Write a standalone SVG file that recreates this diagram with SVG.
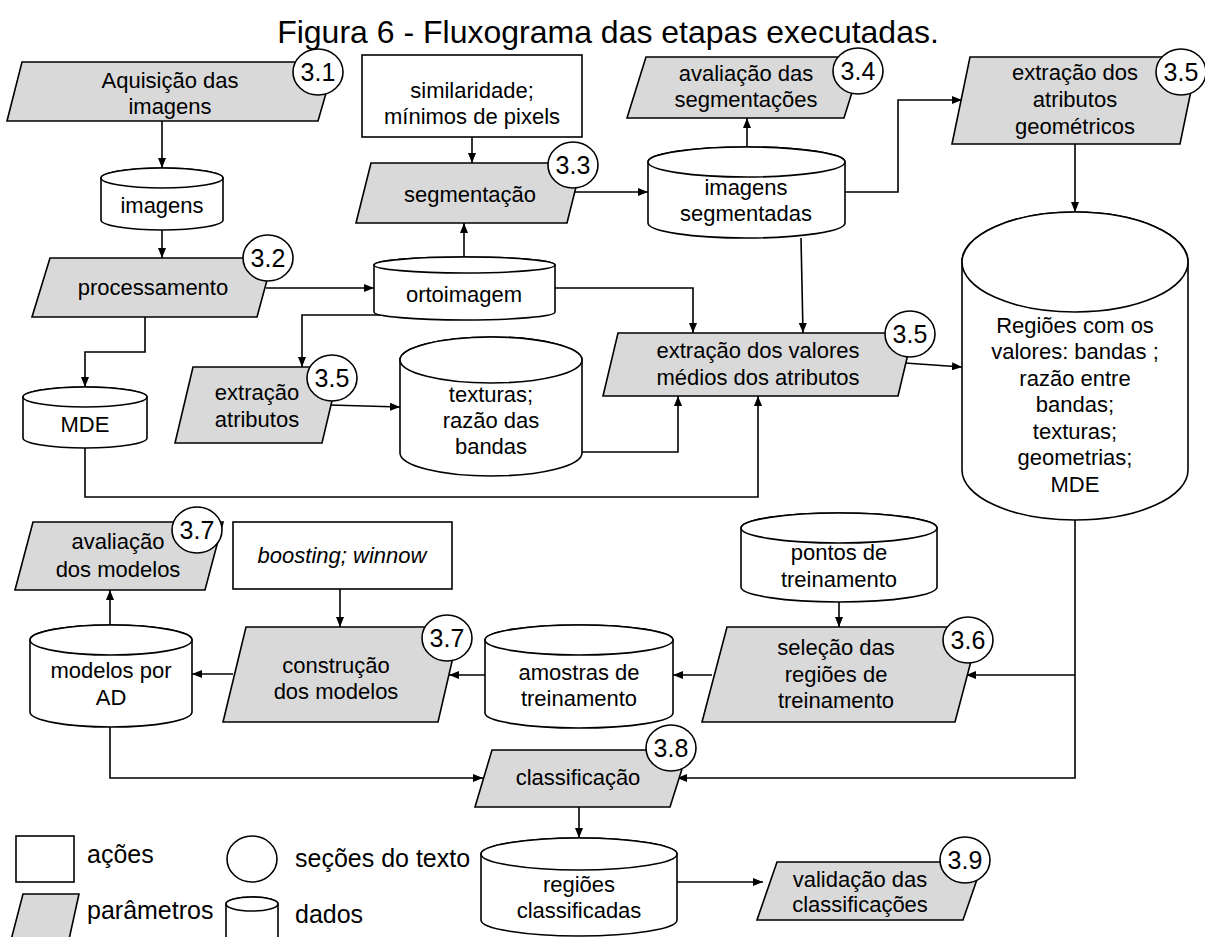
<svg xmlns="http://www.w3.org/2000/svg" width="1205" height="937" viewBox="0 0 1205 937">
<defs>
<marker id="ah" markerUnits="userSpaceOnUse" markerWidth="10" markerHeight="8" refX="10" refY="4" orient="auto"><path d="M0,0 L10,4 L0,8 z" fill="#000"/></marker>
<style>
text{font-family:"Liberation Sans",Arial,sans-serif;fill:#000}
.t{font-size:22px;text-anchor:middle}
.n{font-size:25px;text-anchor:middle}
.lg{font-size:25px}
.title{font-size:32px;text-anchor:middle}
.p{fill:#d9d9d9;stroke:#000;stroke-width:1.6}
.r{fill:#fff;stroke:#000;stroke-width:1.6}
.c{fill:#fff;stroke:#000;stroke-width:1.6}
.e{fill:none;stroke:#000;stroke-width:1.6;marker-end:url(#ah)}
.l{fill:none;stroke:#000;stroke-width:1.6}
</style>
</defs>
<rect width="1205" height="937" fill="#fff"/>
<text class="title" x="608" y="43">Figura 6 - Fluxograma das etapas executadas.</text>

<g id="connectors">
<path class="e" d="M162,121 V168"/>
<path class="e" d="M162,230 V258"/>
<path class="e" d="M266,288 H374"/>
<path class="e" d="M382,315 H302 V367"/>
<path class="e" d="M145,317 V352 H85 V387"/>
<path class="e" d="M464,257 V223"/>
<path class="e" d="M472,137 V163"/>
<path class="e" d="M575,192 H648"/>
<path class="e" d="M747,147 V118"/>
<path class="e" d="M845,192 H898 V100 H962"/>
<path class="e" d="M1075,144 V212"/>
<path class="e" d="M555,288 H693 V333"/>
<path class="e" d="M801,238 L803,333"/>
<path class="e" d="M330,405 L400,407"/>
<path class="e" d="M582,452 H678 V396"/>
<path class="e" d="M85,448 V497 H758 V396"/>
<path class="e" d="M905,363 L962,367"/>
<path class="e" d="M1075,520 V778 H677"/>
<path class="e" d="M1075,675 H966"/>
<path class="e" d="M839,602 V627"/>
<path class="e" d="M712,675 H673"/>
<path class="e" d="M485,675 H449"/>
<path class="e" d="M233,674 H192"/>
<path class="e" d="M340,589 V627"/>
<path class="e" d="M110,625 V590"/>
<path class="e" d="M110,727 V778 H483"/>
<path class="e" d="M579,807 V838"/>
<path class="e" d="M677,882 H763"/>
</g>

<g id="n-aquisicao">
<polygon class="p" points="22,62 335,62 318,121 7,121"/>
<text class="t" x="170" y="88">Aquisição das</text>
<text class="t" x="170" y="114">imagens</text>
<ellipse class="c" cx="318" cy="72" rx="25" ry="23"/>
<text class="n" x="318" y="81">3.1</text>
</g>

<g id="n-similaridade">
<rect class="r" x="362" y="55" width="220" height="82"/>
<text class="t" x="472" y="98">similaridade;</text>
<text class="t" x="472" y="124">mínimos de pixels</text>
</g>

<g id="n-avaliacao-seg">
<polygon class="p" points="646,57 863,57 844,118 627,118"/>
<text class="t" x="746" y="81">avaliação das</text>
<text class="t" x="746" y="107">segmentações</text>
<ellipse class="c" cx="858" cy="71" rx="25" ry="23"/>
<text class="n" x="858" y="80">3.4</text>
</g>

<g id="n-geometricos">
<polygon class="p" points="970,57 1198,57 1180,144 952,144"/>
<text class="t" x="1075" y="80">extração dos</text>
<text class="t" x="1075" y="107">atributos</text>
<text class="t" x="1075" y="134">geométricos</text>
<ellipse class="c" cx="1181" cy="72" rx="25" ry="23"/>
<text class="n" x="1181" y="81">3.5</text>
</g>

<g id="n-imagens">
<path class="r" d="M101,178 V220 A61,10 0 0 0 223,220 V178 A61,10 0 0 0 101,178 Z"/>
<ellipse class="r" cx="162" cy="178" rx="61" ry="10"/>
<text class="t" x="162" y="213">imagens</text>
</g>

<g id="n-segmentacao">
<polygon class="p" points="371,163 582,163 567,223 356,223"/>
<text class="t" x="470" y="202">segmentação</text>
<ellipse class="c" cx="573" cy="165" rx="25" ry="23"/>
<text class="n" x="573" y="174">3.3</text>
</g>

<g id="n-imagens-seg">
<path class="r" d="M648,162 V223 A98.5,15 0 0 0 845,223 V162 A98.5,15 0 0 0 648,162 Z"/>
<ellipse class="r" cx="746.5" cy="162" rx="98.5" ry="15"/>
<text class="t" x="746" y="195">imagens</text>
<text class="t" x="746" y="221">segmentadas</text>
</g>

<g id="n-processamento">
<polygon class="p" points="50,258 273,258 257,317 32,317"/>
<text class="t" x="153" y="295">processamento</text>
<ellipse class="c" cx="268" cy="258" rx="25" ry="23"/>
<text class="n" x="268" y="267">3.2</text>
</g>

<g id="n-ortoimagem">
<path class="r" d="M374,265 V312 A90.5,8 0 0 0 555,312 V265 A90.5,8 0 0 0 374,265 Z"/>
<ellipse class="r" cx="464.5" cy="265" rx="90.5" ry="8"/>
<text class="t" x="464" y="302">ortoimagem</text>
</g>

<g id="n-regioes">
<path class="r" d="M962,262 V470 A113,50 0 0 0 1188,470 V262 A113,50 0 0 0 962,262 Z"/>
<ellipse class="r" cx="1075" cy="262" rx="113" ry="50"/>
<text class="t" x="1075" y="333">Regiões com os</text>
<text class="t" x="1075" y="359">valores: bandas ;</text>
<text class="t" x="1075" y="386">razão entre</text>
<text class="t" x="1075" y="412">bandas;</text>
<text class="t" x="1075" y="439">texturas;</text>
<text class="t" x="1075" y="465">geometrias;</text>
<text class="t" x="1075" y="492">MDE</text>
</g>

<g id="n-extracao-atributos">
<polygon class="p" points="193,367 340,367 322,443 175,443"/>
<text class="t" x="257" y="400">extração</text>
<text class="t" x="257" y="427">atributos</text>
<ellipse class="c" cx="332" cy="378" rx="25" ry="23"/>
<text class="n" x="332" y="387">3.5</text>
</g>

<g id="n-mde">
<path class="r" d="M23,397 V438 A62,10 0 0 0 147,438 V397 A62,10 0 0 0 23,397 Z"/>
<ellipse class="r" cx="85" cy="397" rx="62" ry="10"/>
<text class="t" x="85" y="432">MDE</text>
</g>

<g id="n-texturas">
<path class="r" d="M400,360 V453 A91,23 0 0 0 582,453 V360 A91,23 0 0 0 400,360 Z"/>
<ellipse class="r" cx="491" cy="360" rx="91" ry="23"/>
<text class="t" x="491" y="402">texturas;</text>
<text class="t" x="491" y="428">razão das</text>
<text class="t" x="491" y="454">bandas</text>
</g>

<g id="n-valores">
<polygon class="p" points="618,333 913,333 898,396 603,396"/>
<text class="t" x="758" y="358">extração dos valores</text>
<text class="t" x="758" y="385">médios dos atributos</text>
<ellipse class="c" cx="910" cy="334" rx="25" ry="23"/>
<text class="n" x="910" y="343">3.5</text>
</g>

<g id="n-avaliacao-modelos">
<polygon class="p" points="33,522 223,522 205,590 15,590"/>
<text class="t" x="118" y="549">avaliação</text>
<text class="t" x="118" y="577">dos modelos</text>
<ellipse class="c" cx="197" cy="530" rx="25" ry="23"/>
<text class="n" x="197" y="539">3.7</text>
</g>

<g id="n-boosting">
<rect class="r" x="233" y="522" width="219" height="67"/>
<text class="t" x="342" y="563" font-style="italic">boosting; winnow</text>
</g>

<g id="n-pontos">
<path class="r" d="M741,528 V587 A98,15 0 0 0 937,587 V528 A98,15 0 0 0 741,528 Z"/>
<ellipse class="r" cx="839" cy="528" rx="98" ry="15"/>
<text class="t" x="839" y="560">pontos de</text>
<text class="t" x="839" y="587">treinamento</text>
</g>

<g id="n-modelos-ad">
<path class="r" d="M30,640 V712 A81,15 0 0 0 192,712 V640 A81,15 0 0 0 30,640 Z"/>
<ellipse class="r" cx="111" cy="640" rx="81" ry="15"/>
<text class="t" x="111" y="678">modelos por</text>
<text class="t" x="111" y="705">AD</text>
</g>

<g id="n-construcao">
<polygon class="p" points="246,627 460,627 438,722 223,722"/>
<text class="t" x="336" y="673">construção</text>
<text class="t" x="336" y="699">dos modelos</text>
<ellipse class="c" cx="447" cy="638" rx="25" ry="23"/>
<text class="n" x="447" y="647">3.7</text>
</g>

<g id="n-amostras">
<path class="r" d="M485,640 V713 A94,15 0 0 0 673,713 V640 A94,15 0 0 0 485,640 Z"/>
<ellipse class="r" cx="579" cy="640" rx="94" ry="15"/>
<text class="t" x="579" y="680">amostras de</text>
<text class="t" x="579" y="706">treinamento</text>
</g>

<g id="n-selecao">
<polygon class="p" points="727,627 980,627 955,722 702,722"/>
<text class="t" x="836" y="655">seleção das</text>
<text class="t" x="836" y="682">regiões de</text>
<text class="t" x="836" y="708">treinamento</text>
<ellipse class="c" cx="968" cy="640" rx="25" ry="23"/>
<text class="n" x="968" y="649">3.6</text>
</g>

<g id="n-classificacao">
<polygon class="p" points="492,750 688,750 670,807 475,807"/>
<text class="t" x="578" y="785">classificação</text>
<ellipse class="c" cx="671" cy="748" rx="25" ry="23"/>
<text class="n" x="671" y="757">3.8</text>
</g>

<g id="n-regioes-class">
<path class="r" d="M481,854 V920 A98,16 0 0 0 677,920 V854 A98,16 0 0 0 481,854 Z"/>
<ellipse class="r" cx="579" cy="854" rx="98" ry="16"/>
<text class="t" x="579" y="892">regiões</text>
<text class="t" x="579" y="918">classificadas</text>
</g>

<g id="n-validacao">
<polygon class="p" points="777,862 983,862 963,920 757,920"/>
<text class="t" x="860" y="887">validação das</text>
<text class="t" x="860" y="912">classificações</text>
<ellipse class="c" cx="965" cy="860" rx="25" ry="23"/>
<text class="n" x="965" y="869">3.9</text>
</g>

<g id="legend">
<rect class="r" x="16" y="836" width="58" height="46"/>
<text class="lg" x="87" y="863">ações</text>
<polygon class="p" points="23,894 79,894 68,944 10,944"/>
<text class="lg" x="87" y="919">parâmetros</text>
<ellipse class="c" cx="252" cy="859" rx="25" ry="23"/>
<text class="lg" x="295" y="867">seções do texto</text>
<path class="r" d="M226,904 V938 A26,7 0 0 0 278,938 V904 A26,7 0 0 0 226,904 Z"/>
<ellipse class="r" cx="252" cy="904" rx="26" ry="7"/>
<text class="lg" x="295" y="923">dados</text>
</g>
</svg>
